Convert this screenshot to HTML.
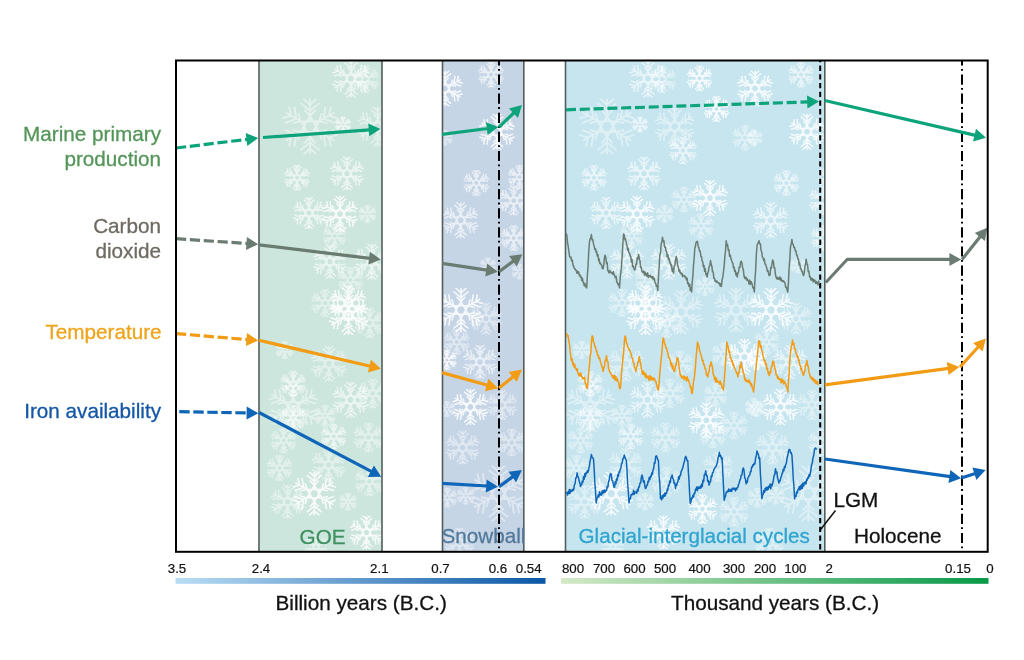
<!DOCTYPE html><html><head><meta charset="utf-8"><style>html,body{margin:0;padding:0;background:#fff;overflow:hidden;}svg{display:block;}text{font-family:"Liberation Sans",sans-serif;}</style></head><body>
<svg width="1024" height="660" viewBox="0 0 1024 660">
<rect width="1024" height="660" fill="#fff"/>
<rect x="259" y="61" width="123" height="490" fill="#cde6dd"/>
<rect x="442" y="61" width="82" height="490" fill="#c6d5e6"/>
<rect x="565.5" y="61" width="259.5" height="490" fill="#c6e5ef"/>
<defs><symbol id="fl" viewBox="-50 -50 100 100"><g fill="none" stroke="#fff" stroke-linecap="butt"><g transform="rotate(0)"><path d="M0,-10 L0,-50 M-17,-42 L0,-28 L17,-42 M-12,-50 L0,-39 L12,-50 M-10,-30 L0,-19 L10,-30"/></g><g transform="rotate(60)"><path d="M0,-10 L0,-50 M-17,-42 L0,-28 L17,-42 M-12,-50 L0,-39 L12,-50 M-10,-30 L0,-19 L10,-30"/></g><g transform="rotate(120)"><path d="M0,-10 L0,-50 M-17,-42 L0,-28 L17,-42 M-12,-50 L0,-39 L12,-50 M-10,-30 L0,-19 L10,-30"/></g><g transform="rotate(180)"><path d="M0,-10 L0,-50 M-17,-42 L0,-28 L17,-42 M-12,-50 L0,-39 L12,-50 M-10,-30 L0,-19 L10,-30"/></g><g transform="rotate(240)"><path d="M0,-10 L0,-50 M-17,-42 L0,-28 L17,-42 M-12,-50 L0,-39 L12,-50 M-10,-30 L0,-19 L10,-30"/></g><g transform="rotate(300)"><path d="M0,-10 L0,-50 M-17,-42 L0,-28 L17,-42 M-12,-50 L0,-39 L12,-50 M-10,-30 L0,-19 L10,-30"/></g><path d="M0,-19 L16.45,9.5 L-16.45,9.5 Z M0,19 L16.45,-9.5 L-16.45,-9.5 Z"/></g></symbol><filter id="blr" x="-5%" y="-5%" width="110%" height="110%"><feGaussianBlur stdDeviation="0.7"/></filter><clipPath id="cg"><rect x="259" y="61" width="123" height="490"/></clipPath><clipPath id="cs"><rect x="442" y="61" width="82" height="490"/></clipPath><clipPath id="cc"><rect x="565.5" y="61" width="259.5" height="490"/></clipPath></defs>
<g clip-path="url(#cg)"><g filter="url(#blr)">
<use href="#fl" x="332.0" y="59.5" width="38" height="38" opacity="0.62" stroke-width="3.87"/>
<use href="#fl" x="351.5" y="65.5" width="28" height="28" opacity="0.45" stroke-width="4.71"/>
<use href="#fl" x="282.0" y="98.6" width="56" height="56" opacity="0.45" stroke-width="3.11"/>
<use href="#fl" x="335.0" y="116.5" width="16" height="16" opacity="0.62" stroke-width="7.13"/>
<use href="#fl" x="357.7" y="106.6" width="40" height="40" opacity="0.45" stroke-width="3.75"/>
<use href="#fl" x="284.0" y="164.7" width="26" height="26" opacity="0.62" stroke-width="4.96"/>
<use href="#fl" x="330.0" y="156.6" width="34" height="34" opacity="0.62" stroke-width="4.15"/>
<use href="#fl" x="293.0" y="197.0" width="32" height="32" opacity="0.62" stroke-width="4.31"/>
<use href="#fl" x="322.0" y="196.0" width="36" height="36" opacity="0.85" stroke-width="4.00"/>
<use href="#fl" x="358.5" y="205.0" width="18" height="18" opacity="0.45" stroke-width="6.50"/>
<use href="#fl" x="322.6" y="224.0" width="24" height="24" opacity="0.45" stroke-width="5.25"/>
<use href="#fl" x="313.0" y="244.7" width="34" height="34" opacity="0.62" stroke-width="4.15"/>
<use href="#fl" x="353.7" y="243.7" width="36" height="36" opacity="0.62" stroke-width="4.00"/>
<use href="#fl" x="337.5" y="267.0" width="26" height="26" opacity="0.45" stroke-width="4.96"/>
<use href="#fl" x="330.4" y="285.0" width="36" height="36" opacity="0.85" stroke-width="4.00"/>
<use href="#fl" x="311.0" y="289.0" width="28" height="28" opacity="0.45" stroke-width="4.71"/>
<use href="#fl" x="328.4" y="295.0" width="40" height="40" opacity="0.85" stroke-width="3.75"/>
<use href="#fl" x="354.6" y="308.0" width="30" height="30" opacity="0.45" stroke-width="4.50"/>
<use href="#fl" x="275.7" y="341.0" width="18" height="18" opacity="0.45" stroke-width="6.50"/>
<use href="#fl" x="311.0" y="345.7" width="36" height="36" opacity="0.45" stroke-width="4.00"/>
<use href="#fl" x="280.2" y="370.8" width="26" height="26" opacity="0.62" stroke-width="4.96"/>
<use href="#fl" x="268.2" y="382.0" width="50" height="50" opacity="0.45" stroke-width="3.30"/>
<use href="#fl" x="280.2" y="404.8" width="26" height="26" opacity="0.62" stroke-width="4.96"/>
<use href="#fl" x="332.5" y="381.8" width="36" height="36" opacity="0.62" stroke-width="4.00"/>
<use href="#fl" x="314.0" y="404.7" width="22" height="22" opacity="0.45" stroke-width="5.59"/>
<use href="#fl" x="357.8" y="378.4" width="30" height="30" opacity="0.45" stroke-width="4.50"/>
<use href="#fl" x="270.6" y="427.5" width="26" height="26" opacity="0.45" stroke-width="4.96"/>
<use href="#fl" x="320.7" y="423.4" width="26" height="26" opacity="0.62" stroke-width="4.96"/>
<use href="#fl" x="353.5" y="422.4" width="30" height="30" opacity="0.45" stroke-width="4.50"/>
<use href="#fl" x="266.5" y="455.0" width="26" height="26" opacity="0.45" stroke-width="4.96"/>
<use href="#fl" x="311.6" y="448.0" width="34" height="34" opacity="0.45" stroke-width="4.15"/>
<use href="#fl" x="292.3" y="471.6" width="44" height="44" opacity="0.85" stroke-width="3.55"/>
<use href="#fl" x="270.7" y="484.8" width="34" height="34" opacity="0.45" stroke-width="4.15"/>
<use href="#fl" x="339.0" y="492.8" width="18" height="18" opacity="0.45" stroke-width="6.50"/>
<use href="#fl" x="354.5" y="466.4" width="30" height="30" opacity="0.45" stroke-width="4.50"/>
<use href="#fl" x="349.5" y="515.5" width="34" height="34" opacity="0.85" stroke-width="4.15"/>
<use href="#fl" x="304.0" y="534.8" width="24" height="24" opacity="0.45" stroke-width="5.25"/>
</g></g>
<g clip-path="url(#cs)"><g filter="url(#blr)">
<use href="#fl" x="427.0" y="70.5" width="36" height="36" opacity="0.85" stroke-width="4.00"/>
<use href="#fl" x="478.0" y="61.7" width="26" height="26" opacity="0.62" stroke-width="4.96"/>
<use href="#fl" x="479.0" y="113.8" width="36" height="36" opacity="0.85" stroke-width="4.00"/>
<use href="#fl" x="436.8" y="129.7" width="16" height="16" opacity="0.45" stroke-width="7.13"/>
<use href="#fl" x="463.3" y="170.0" width="26" height="26" opacity="0.62" stroke-width="4.96"/>
<use href="#fl" x="507.6" y="165.0" width="24" height="24" opacity="0.62" stroke-width="5.25"/>
<use href="#fl" x="442.6" y="202.3" width="36" height="36" opacity="0.62" stroke-width="4.00"/>
<use href="#fl" x="498.7" y="185.6" width="30" height="30" opacity="0.62" stroke-width="4.50"/>
<use href="#fl" x="500.7" y="225.0" width="26" height="26" opacity="0.62" stroke-width="4.96"/>
<use href="#fl" x="480.0" y="257.5" width="16" height="16" opacity="0.45" stroke-width="7.13"/>
<use href="#fl" x="439.0" y="288.0" width="44" height="44" opacity="0.85" stroke-width="3.55"/>
<use href="#fl" x="511.6" y="263.5" width="16" height="16" opacity="0.45" stroke-width="7.13"/>
<use href="#fl" x="470.0" y="302.6" width="32" height="32" opacity="0.45" stroke-width="4.31"/>
<use href="#fl" x="443.7" y="329.0" width="26" height="26" opacity="0.45" stroke-width="4.96"/>
<use href="#fl" x="463.0" y="345.0" width="34" height="34" opacity="0.62" stroke-width="4.15"/>
<use href="#fl" x="436.8" y="350.0" width="20" height="20" opacity="0.85" stroke-width="6.00"/>
<use href="#fl" x="452.4" y="389.0" width="36" height="36" opacity="0.85" stroke-width="4.00"/>
<use href="#fl" x="487.0" y="390.0" width="30" height="30" opacity="0.45" stroke-width="4.50"/>
<use href="#fl" x="438.8" y="401.0" width="16" height="16" opacity="0.45" stroke-width="7.13"/>
<use href="#fl" x="445.6" y="430.6" width="34" height="34" opacity="0.45" stroke-width="4.15"/>
<use href="#fl" x="497.7" y="428.5" width="28" height="28" opacity="0.45" stroke-width="4.71"/>
<use href="#fl" x="456.7" y="486.7" width="18" height="18" opacity="0.45" stroke-width="6.50"/>
<use href="#fl" x="470.4" y="465.6" width="56" height="56" opacity="0.45" stroke-width="3.11"/>
<use href="#fl" x="437.3" y="487.7" width="20" height="20" opacity="0.45" stroke-width="6.00"/>
<use href="#fl" x="444.5" y="527.7" width="30" height="30" opacity="0.45" stroke-width="4.50"/>
</g></g>
<g clip-path="url(#cc)"><g filter="url(#blr)">
<use href="#fl" x="629.0" y="59.5" width="38" height="38" opacity="0.62" stroke-width="3.87"/>
<use href="#fl" x="648.5" y="65.5" width="28" height="28" opacity="0.45" stroke-width="4.71"/>
<use href="#fl" x="579.0" y="98.6" width="56" height="56" opacity="0.45" stroke-width="3.11"/>
<use href="#fl" x="632.0" y="116.5" width="16" height="16" opacity="0.62" stroke-width="7.13"/>
<use href="#fl" x="654.7" y="106.6" width="40" height="40" opacity="0.45" stroke-width="3.75"/>
<use href="#fl" x="581.0" y="164.7" width="26" height="26" opacity="0.62" stroke-width="4.96"/>
<use href="#fl" x="627.0" y="156.6" width="34" height="34" opacity="0.62" stroke-width="4.15"/>
<use href="#fl" x="590.0" y="197.0" width="32" height="32" opacity="0.62" stroke-width="4.31"/>
<use href="#fl" x="619.0" y="196.0" width="36" height="36" opacity="0.85" stroke-width="4.00"/>
<use href="#fl" x="655.5" y="205.0" width="18" height="18" opacity="0.45" stroke-width="6.50"/>
<use href="#fl" x="619.6" y="224.0" width="24" height="24" opacity="0.45" stroke-width="5.25"/>
<use href="#fl" x="610.0" y="244.7" width="34" height="34" opacity="0.62" stroke-width="4.15"/>
<use href="#fl" x="650.7" y="243.7" width="36" height="36" opacity="0.62" stroke-width="4.00"/>
<use href="#fl" x="634.5" y="267.0" width="26" height="26" opacity="0.45" stroke-width="4.96"/>
<use href="#fl" x="627.4" y="285.0" width="36" height="36" opacity="0.85" stroke-width="4.00"/>
<use href="#fl" x="608.0" y="289.0" width="28" height="28" opacity="0.45" stroke-width="4.71"/>
<use href="#fl" x="625.4" y="295.0" width="40" height="40" opacity="0.85" stroke-width="3.75"/>
<use href="#fl" x="651.6" y="308.0" width="30" height="30" opacity="0.45" stroke-width="4.50"/>
<use href="#fl" x="572.7" y="341.0" width="18" height="18" opacity="0.45" stroke-width="6.50"/>
<use href="#fl" x="608.0" y="345.7" width="36" height="36" opacity="0.45" stroke-width="4.00"/>
<use href="#fl" x="577.2" y="370.8" width="26" height="26" opacity="0.62" stroke-width="4.96"/>
<use href="#fl" x="565.2" y="382.0" width="50" height="50" opacity="0.45" stroke-width="3.30"/>
<use href="#fl" x="577.2" y="404.8" width="26" height="26" opacity="0.62" stroke-width="4.96"/>
<use href="#fl" x="629.5" y="381.8" width="36" height="36" opacity="0.62" stroke-width="4.00"/>
<use href="#fl" x="611.0" y="404.7" width="22" height="22" opacity="0.45" stroke-width="5.59"/>
<use href="#fl" x="654.8" y="378.4" width="30" height="30" opacity="0.45" stroke-width="4.50"/>
<use href="#fl" x="567.6" y="427.5" width="26" height="26" opacity="0.45" stroke-width="4.96"/>
<use href="#fl" x="617.7" y="423.4" width="26" height="26" opacity="0.62" stroke-width="4.96"/>
<use href="#fl" x="650.5" y="422.4" width="30" height="30" opacity="0.45" stroke-width="4.50"/>
<use href="#fl" x="563.5" y="455.0" width="26" height="26" opacity="0.45" stroke-width="4.96"/>
<use href="#fl" x="608.6" y="448.0" width="34" height="34" opacity="0.45" stroke-width="4.15"/>
<use href="#fl" x="589.3" y="471.6" width="44" height="44" opacity="0.85" stroke-width="3.55"/>
<use href="#fl" x="567.7" y="484.8" width="34" height="34" opacity="0.45" stroke-width="4.15"/>
<use href="#fl" x="636.0" y="492.8" width="18" height="18" opacity="0.45" stroke-width="6.50"/>
<use href="#fl" x="651.5" y="466.4" width="30" height="30" opacity="0.45" stroke-width="4.50"/>
<use href="#fl" x="646.5" y="515.5" width="34" height="34" opacity="0.85" stroke-width="4.15"/>
<use href="#fl" x="601.0" y="534.8" width="24" height="24" opacity="0.45" stroke-width="5.25"/>
<use href="#fl" x="686.5" y="65.3" width="26" height="26" opacity="0.85" stroke-width="4.96"/>
<use href="#fl" x="703.5" y="96.0" width="26" height="26" opacity="0.85" stroke-width="4.96"/>
<use href="#fl" x="732.0" y="124.7" width="26" height="26" opacity="0.45" stroke-width="4.96"/>
<use href="#fl" x="692.0" y="180.0" width="36" height="36" opacity="0.85" stroke-width="4.00"/>
<use href="#fl" x="671.0" y="186.5" width="26" height="26" opacity="0.45" stroke-width="4.96"/>
<use href="#fl" x="688.0" y="212.9" width="26" height="26" opacity="0.45" stroke-width="4.96"/>
<use href="#fl" x="695.0" y="276.5" width="20" height="20" opacity="0.45" stroke-width="6.00"/>
<use href="#fl" x="659.3" y="290.0" width="44" height="44" opacity="0.45" stroke-width="3.55"/>
<use href="#fl" x="714.0" y="288.0" width="44" height="44" opacity="0.45" stroke-width="3.55"/>
<use href="#fl" x="667.0" y="350.5" width="26" height="26" opacity="0.45" stroke-width="4.96"/>
<use href="#fl" x="726.5" y="339.0" width="36" height="36" opacity="0.85" stroke-width="4.00"/>
<use href="#fl" x="711.5" y="342.0" width="24" height="24" opacity="0.45" stroke-width="5.25"/>
<use href="#fl" x="688.3" y="402.2" width="36" height="36" opacity="0.85" stroke-width="4.00"/>
<use href="#fl" x="703.5" y="383.0" width="24" height="24" opacity="0.45" stroke-width="5.25"/>
<use href="#fl" x="720.0" y="411.5" width="28" height="28" opacity="0.45" stroke-width="4.71"/>
<use href="#fl" x="744.8" y="398.0" width="18" height="18" opacity="0.45" stroke-width="6.50"/>
<use href="#fl" x="687.4" y="494.0" width="30" height="30" opacity="0.85" stroke-width="4.50"/>
<use href="#fl" x="719.0" y="496.7" width="30" height="30" opacity="0.45" stroke-width="4.50"/>
<use href="#fl" x="703.0" y="452.0" width="30" height="30" opacity="0.45" stroke-width="4.50"/>
<use href="#fl" x="700.0" y="422.3" width="26" height="26" opacity="0.45" stroke-width="4.96"/>
<use href="#fl" x="669.0" y="136.5" width="28" height="28" opacity="0.62" stroke-width="4.71"/>
<use href="#fl" x="737.0" y="70.5" width="36" height="36" opacity="0.85" stroke-width="4.00"/>
<use href="#fl" x="788.0" y="61.7" width="26" height="26" opacity="0.62" stroke-width="4.96"/>
<use href="#fl" x="789.0" y="113.8" width="36" height="36" opacity="0.85" stroke-width="4.00"/>
<use href="#fl" x="746.8" y="129.7" width="16" height="16" opacity="0.45" stroke-width="7.13"/>
<use href="#fl" x="773.3" y="170.0" width="26" height="26" opacity="0.62" stroke-width="4.96"/>
<use href="#fl" x="817.6" y="165.0" width="24" height="24" opacity="0.62" stroke-width="5.25"/>
<use href="#fl" x="752.6" y="202.3" width="36" height="36" opacity="0.62" stroke-width="4.00"/>
<use href="#fl" x="808.7" y="185.6" width="30" height="30" opacity="0.62" stroke-width="4.50"/>
<use href="#fl" x="810.7" y="225.0" width="26" height="26" opacity="0.62" stroke-width="4.96"/>
<use href="#fl" x="790.0" y="257.5" width="16" height="16" opacity="0.45" stroke-width="7.13"/>
<use href="#fl" x="749.0" y="288.0" width="44" height="44" opacity="0.85" stroke-width="3.55"/>
<use href="#fl" x="821.6" y="263.5" width="16" height="16" opacity="0.45" stroke-width="7.13"/>
<use href="#fl" x="780.0" y="302.6" width="32" height="32" opacity="0.45" stroke-width="4.31"/>
<use href="#fl" x="753.7" y="329.0" width="26" height="26" opacity="0.45" stroke-width="4.96"/>
<use href="#fl" x="773.0" y="345.0" width="34" height="34" opacity="0.62" stroke-width="4.15"/>
<use href="#fl" x="746.8" y="350.0" width="20" height="20" opacity="0.85" stroke-width="6.00"/>
<use href="#fl" x="762.4" y="389.0" width="36" height="36" opacity="0.85" stroke-width="4.00"/>
<use href="#fl" x="797.0" y="390.0" width="30" height="30" opacity="0.45" stroke-width="4.50"/>
<use href="#fl" x="748.8" y="401.0" width="16" height="16" opacity="0.45" stroke-width="7.13"/>
<use href="#fl" x="755.6" y="430.6" width="34" height="34" opacity="0.45" stroke-width="4.15"/>
<use href="#fl" x="807.7" y="428.5" width="28" height="28" opacity="0.45" stroke-width="4.71"/>
<use href="#fl" x="766.7" y="486.7" width="18" height="18" opacity="0.45" stroke-width="6.50"/>
<use href="#fl" x="780.4" y="465.6" width="56" height="56" opacity="0.45" stroke-width="3.11"/>
<use href="#fl" x="747.3" y="487.7" width="20" height="20" opacity="0.45" stroke-width="6.00"/>
<use href="#fl" x="754.5" y="527.7" width="30" height="30" opacity="0.45" stroke-width="4.50"/>
</g></g>
<line x1="259" y1="60" x2="259" y2="552" stroke="#535d5c" stroke-width="1.6"/>
<line x1="382" y1="60" x2="382" y2="552" stroke="#535d5c" stroke-width="1.6"/>
<line x1="442.5" y1="60" x2="442.5" y2="552" stroke="#535d5c" stroke-width="1.6"/>
<line x1="523.8" y1="60" x2="523.8" y2="552" stroke="#535d5c" stroke-width="1.6"/>
<line x1="565.5" y1="60" x2="565.5" y2="552" stroke="#535d5c" stroke-width="1.6"/>
<line x1="824.8" y1="60" x2="824.8" y2="552" stroke="#535d5c" stroke-width="1.6"/>
<text x="299.6" y="543.5" font-size="20.7" fill="#3f9160" stroke="#3f9160" stroke-width="0.3">GOE</text>
<text x="441.4" y="542.6" font-size="20.7" fill="#52799a" stroke="#52799a" stroke-width="0.3">Snowball</text>
<text x="578.6" y="543" font-size="20.6" fill="#2fa4d0" stroke="#2fa4d0" stroke-width="0.3">Glacial-interglacial cycles</text>
<text x="854" y="543" font-size="20.7" fill="#111" stroke="#111" stroke-width="0.3">Holocene</text>
<text x="833.5" y="506.5" font-size="20.7" fill="#111" stroke="#111" stroke-width="0.3">LGM</text>
<line x1="835.5" y1="510.5" x2="819.8" y2="530.5" stroke="#111" stroke-width="1.5"/>
<line x1="499" y1="61" x2="499" y2="551" stroke="#000" stroke-width="2" stroke-dasharray="10.2 3.3 1.8 3.8" stroke-dashoffset="5.6"/>
<line x1="962" y1="61" x2="962" y2="551" stroke="#000" stroke-width="2" stroke-dasharray="10.2 3.3 1.8 3.8" stroke-dashoffset="5.6"/>
<line x1="820.2" y1="61" x2="820.2" y2="551" stroke="#000" stroke-width="2" stroke-dasharray="5.3 3.4" stroke-dashoffset="4.1"/>
<line x1="176.0" y1="148.0" x2="247.5" y2="139.3" stroke="#0ea47b" stroke-width="3.2" stroke-dasharray="10.2 3.7"/><polygon points="258.2,138.0 247.3,145.9 245.7,133.0" fill="#0ea47b"/>
<line x1="263.0" y1="137.5" x2="369.7" y2="129.8" stroke="#0ea47b" stroke-width="3.2"/><polygon points="380.5,129.0 369.2,136.3 368.3,123.4" fill="#0ea47b"/>
<line x1="442.0" y1="134.4" x2="487.8" y2="128.5" stroke="#0ea47b" stroke-width="3.2"/><polygon points="498.5,127.1 487.6,135.1 486.0,122.2" fill="#0ea47b"/>
<line x1="499.0" y1="127.1" x2="514.2" y2="112.5" stroke="#0ea47b" stroke-width="3.2"/><polygon points="522.0,105.0 518.0,117.9 509.0,108.5" fill="#0ea47b"/>
<line x1="566.0" y1="109.8" x2="808.2" y2="101.9" stroke="#0ea47b" stroke-width="3.2" stroke-dasharray="10 3.8"/><polygon points="819.0,101.6 807.4,108.5 807.0,95.5" fill="#0ea47b"/>
<line x1="824.7" y1="100.5" x2="975.5" y2="135.4" stroke="#0ea47b" stroke-width="3.2"/><polygon points="986.0,137.8 973.0,141.5 976.0,128.8" fill="#0ea47b"/>
<line x1="176.0" y1="238.7" x2="247.4" y2="243.5" stroke="#6a7b71" stroke-width="3.2" stroke-dasharray="10.2 3.7"/><polygon points="258.2,244.2 246.0,249.9 246.9,236.9" fill="#6a7b71"/>
<line x1="259.0" y1="244.8" x2="370.1" y2="258.3" stroke="#6a7b71" stroke-width="3.2"/><polygon points="380.8,259.6 368.3,264.6 369.9,251.7" fill="#6a7b71"/>
<line x1="442.0" y1="263.4" x2="487.1" y2="270.1" stroke="#6a7b71" stroke-width="3.2"/><polygon points="497.8,271.7 485.2,276.4 487.1,263.5" fill="#6a7b71"/>
<line x1="499.0" y1="271.7" x2="513.8" y2="260.7" stroke="#6a7b71" stroke-width="3.2"/><polygon points="522.4,254.2 516.8,266.5 509.1,256.1" fill="#6a7b71"/>
<polyline points="825.8,282.6 847.1,259.4 855.0,259.4" fill="none" stroke="#6a7b71" stroke-width="3" stroke-linejoin="miter"/>
<line x1="847.0" y1="259.4" x2="950.4" y2="259.4" stroke="#6a7b71" stroke-width="3.2"/><polygon points="961.2,259.4 949.4,265.9 949.4,252.9" fill="#6a7b71"/>
<line x1="962.0" y1="259.4" x2="980.5" y2="236.2" stroke="#6a7b71" stroke-width="3.2"/><polygon points="987.2,227.8 984.9,241.1 974.8,233.0" fill="#6a7b71"/>
<line x1="176.0" y1="333.6" x2="247.4" y2="339.6" stroke="#f29b15" stroke-width="3.2" stroke-dasharray="10.2 3.7"/><polygon points="258.2,340.5 245.9,346.0 247.0,333.0" fill="#f29b15"/>
<line x1="259.0" y1="340.3" x2="370.4" y2="366.3" stroke="#f29b15" stroke-width="3.2"/><polygon points="380.9,368.8 367.9,372.4 370.9,359.8" fill="#f29b15"/>
<line x1="442.0" y1="372.6" x2="487.6" y2="385.3" stroke="#f29b15" stroke-width="3.2"/><polygon points="498.0,388.2 484.9,391.3 488.4,378.8" fill="#f29b15"/>
<line x1="499.0" y1="388.0" x2="513.5" y2="376.4" stroke="#f29b15" stroke-width="3.2"/><polygon points="521.9,369.6 516.8,382.1 508.6,371.9" fill="#f29b15"/>
<line x1="825.0" y1="384.9" x2="948.7" y2="368.3" stroke="#f29b15" stroke-width="3.2"/><polygon points="959.4,366.9 948.6,374.9 946.8,362.0" fill="#f29b15"/>
<line x1="960.0" y1="367.0" x2="978.6" y2="346.5" stroke="#f29b15" stroke-width="3.2"/><polygon points="985.8,338.5 982.7,351.6 973.1,342.9" fill="#f29b15"/>
<line x1="179.3" y1="411.7" x2="247.6" y2="413.0" stroke="#0f66b8" stroke-width="3.2" stroke-dasharray="10.4 3.6"/><polygon points="258.4,413.2 246.5,419.5 246.7,406.5" fill="#0f66b8"/>
<line x1="259.0" y1="412.5" x2="371.7" y2="471.7" stroke="#0f66b8" stroke-width="3.2"/><polygon points="381.3,476.7 367.8,477.0 373.9,465.5" fill="#0f66b8"/>
<line x1="442.0" y1="483.3" x2="487.2" y2="486.0" stroke="#0f66b8" stroke-width="3.2"/><polygon points="498.0,486.7 485.8,492.5 486.6,479.5" fill="#0f66b8"/>
<line x1="499.0" y1="486.7" x2="513.2" y2="476.4" stroke="#0f66b8" stroke-width="3.2"/><polygon points="521.9,470.1 516.2,482.3 508.5,471.8" fill="#0f66b8"/>
<line x1="825.0" y1="459.0" x2="950.4" y2="476.7" stroke="#0f66b8" stroke-width="3.2"/><polygon points="961.1,478.2 948.5,483.0 950.3,470.1" fill="#0f66b8"/>
<line x1="961.3" y1="478.0" x2="975.3" y2="473.4" stroke="#0f66b8" stroke-width="3.2"/><polygon points="985.6,470.0 976.4,479.9 972.4,467.5" fill="#0f66b8"/>
<polyline points="566.2,233.2 566.9,235.8 567.6,243.1 568.2,246.4 568.9,251.5 569.6,256.4 570.3,257.6 571.0,257.1 571.6,261.0 572.3,260.1 573.0,265.0 573.6,266.0 574.3,268.6 575.0,268.8 575.6,270.1 576.2,270.3 576.8,273.2 577.4,271.1 578.1,273.0 578.7,272.1 579.3,275.5 579.9,274.8 580.5,277.0 581.1,276.5 581.7,280.4 582.4,278.1 583.0,282.2 583.6,282.8 584.2,285.6 584.8,283.3 585.5,286.8 586.1,285.4 586.7,287.9 587.4,275.0 588.0,266.8 588.7,252.1 589.4,242.8 590.1,238.7 590.7,238.7 591.4,234.6 592.1,240.0 592.8,239.7 593.5,243.9 594.2,246.3 594.9,249.6 595.5,248.6 596.1,252.5 596.7,251.5 597.3,256.0 598.0,254.6 598.6,260.8 599.2,259.0 599.8,263.6 600.4,263.1 601.0,264.7 601.7,265.2 602.4,268.6 603.1,268.8 603.8,264.5 604.4,257.7 605.1,255.1 605.8,257.4 606.5,263.6 607.1,262.5 607.8,270.4 608.5,271.5 609.1,273.0 609.7,270.5 610.4,272.3 611.0,272.1 611.6,273.1 612.2,272.8 612.8,274.3 613.5,271.7 614.1,275.1 614.7,275.6 615.4,277.8 616.1,276.4 616.8,282.1 617.4,282.5 618.1,284.8 618.8,283.7 619.5,287.9 620.2,277.5 620.8,273.2 621.5,266.0 622.2,255.9 622.9,242.6 623.6,233.9 624.3,235.3 625.0,240.0 625.6,238.8 626.3,243.4 627.0,245.5 627.6,250.2 628.2,248.3 628.9,252.8 629.5,253.2 630.1,255.6 630.8,256.8 631.4,262.1 632.0,259.6 632.6,266.7 633.2,265.6 633.9,268.3 634.5,270.1 635.2,269.5 635.9,264.0 636.5,264.5 637.2,257.8 637.9,259.2 638.6,254.4 639.3,258.5 640.0,260.9 640.6,267.5 641.3,267.3 642.0,271.5 642.6,272.0 643.3,272.6 643.9,271.1 644.5,274.9 645.1,272.2 645.8,275.1 646.4,273.8 647.0,276.3 647.6,272.8 648.3,277.4 648.9,275.6 649.6,276.5 650.2,275.4 650.9,277.2 651.6,276.5 652.3,278.5 652.9,276.4 653.6,279.5 654.3,278.3 655.0,282.5 655.7,283.5 656.4,286.2 657.1,285.8 657.8,290.6 658.5,276.6 659.1,267.5 659.8,255.1 660.5,252.5 661.1,244.5 661.8,241.9 662.5,237.3 663.2,241.4 663.9,240.8 664.6,247.1 665.3,247.1 666.0,251.0 666.6,251.6 667.2,256.9 667.9,254.6 668.5,259.5 669.1,258.3 669.8,262.9 670.4,262.7 671.0,265.7 671.6,265.1 672.2,271.3 672.9,268.9 673.5,272.9 674.2,266.2 674.9,265.4 675.5,260.2 676.2,256.4 676.9,258.9 677.6,265.1 678.3,267.0 679.0,271.5 679.6,269.9 680.2,273.1 680.9,272.5 681.5,274.5 682.1,273.6 682.7,276.7 683.3,275.4 683.9,275.8 684.6,275.7 685.2,277.4 685.8,277.0 686.4,279.8 687.1,278.1 687.7,283.7 688.4,283.1 689.0,286.3 689.7,284.3 690.3,290.5 691.0,287.8 691.6,292.0 692.2,282.1 692.9,275.6 693.5,265.4 694.2,258.0 694.8,248.2 695.5,245.7 696.1,242.4 696.8,241.4 697.5,241.5 698.2,247.0 698.8,247.4 699.5,251.1 700.2,251.1 700.9,256.4 701.5,256.7 702.1,260.8 702.8,261.9 703.4,266.8 704.0,265.5 704.6,271.3 705.2,268.8 705.9,274.6 706.5,274.1 707.1,277.0 707.8,272.9 708.5,270.9 709.1,266.5 709.8,266.0 710.5,260.5 711.2,264.6 711.9,266.3 712.5,271.8 713.2,271.9 713.9,278.3 714.5,278.5 715.1,281.0 715.8,280.5 716.4,282.2 717.0,281.2 717.6,282.4 718.3,282.6 718.9,283.6 719.5,283.1 720.1,285.9 720.8,283.7 721.4,286.5 722.1,279.6 722.8,277.3 723.5,271.5 724.2,265.5 724.9,256.1 725.5,250.9 726.2,240.7 726.9,245.7 727.6,244.6 728.3,250.6 728.9,249.6 729.6,256.3 730.3,255.2 731.0,259.2 731.6,260.1 732.2,262.6 732.9,263.3 733.5,268.0 734.1,267.2 734.7,271.5 735.3,270.5 736.0,275.1 736.6,273.1 737.2,277.0 737.9,273.0 738.6,272.0 739.2,266.9 739.9,267.5 740.6,262.2 741.3,261.2 742.0,263.4 742.7,268.1 743.3,269.3 744.0,275.8 744.7,278.3 745.3,278.4 745.9,277.0 746.6,280.1 747.2,278.7 747.8,280.4 748.4,280.4 749.0,283.9 749.6,280.1 750.3,284.3 750.9,281.5 751.5,282.4 752.2,284.6 752.9,287.8 753.6,287.5 754.3,292.0 755.0,279.3 755.6,270.9 756.3,255.0 757.0,245.5 757.7,243.4 758.3,243.1 759.0,240.7 759.7,243.8 760.4,243.8 761.0,250.2 761.7,251.7 762.4,257.0 763.1,257.8 763.7,260.6 764.3,258.9 765.0,264.1 765.6,264.2 766.2,266.5 766.8,267.8 767.4,271.3 768.1,270.9 768.7,274.4 769.3,275.6 770.0,275.0 770.7,267.6 771.3,268.2 772.0,263.6 772.7,259.9 773.4,261.8 774.1,267.8 774.7,267.7 775.4,274.2 776.1,277.0 776.7,278.7 777.4,277.4 778.0,279.2 778.6,277.9 779.3,279.3 779.9,276.9 780.5,280.2 781.1,278.2 781.8,281.2 782.4,280.7 783.0,281.5 783.7,280.9 784.3,282.4 785.0,282.8 785.7,287.3 786.4,287.3 787.1,290.1 787.8,292.0 788.5,281.3 789.1,268.1 789.8,259.2 790.5,246.9 791.2,243.9 791.9,239.4 792.6,244.0 793.2,244.4 793.9,247.7 794.6,247.6 795.3,250.9 795.9,250.7 796.6,255.1 797.2,255.2 797.9,259.2 798.5,259.1 799.1,264.8 799.7,263.1 800.4,267.8 801.0,268.3 801.6,271.0 802.2,271.0 802.9,274.3 803.5,275.6 804.2,273.2 804.9,266.9 805.5,264.5 806.2,259.2 806.9,263.8 807.6,264.9 808.2,271.7 808.9,271.2 809.6,277.0 810.2,276.5 810.8,279.8 811.4,278.2 812.0,280.3 812.6,278.4 813.2,281.9 813.8,279.7 814.4,281.1 815.0,280.4 815.6,283.3 816.2,281.4 816.8,283.4 817.4,282.6 818.0,284.9 818.6,281.0 819.2,283.8" fill="none" stroke="#6a7b71" stroke-width="1.5" stroke-linejoin="round"/>
<polyline points="566.2,333.9 566.9,333.7 567.5,336.6 568.2,335.9 568.9,342.1 569.5,344.1 570.2,351.9 570.9,357.8 571.5,360.7 572.2,358.8 572.8,364.7 573.4,363.0 574.0,367.0 574.7,364.3 575.3,368.1 575.9,368.1 576.5,370.2 577.2,368.7 577.8,372.9 578.4,373.0 579.0,375.8 579.6,373.7 580.2,375.9 580.8,373.1 581.5,376.5 582.1,376.7 582.7,379.1 583.3,377.9 583.9,378.3 584.6,377.4 585.3,383.3 585.9,383.3 586.6,388.1 587.3,387.9 588.0,382.1 588.7,372.3 589.4,366.0 590.1,356.1 590.8,353.3 591.4,342.4 592.1,335.9 592.8,336.6 593.5,342.1 594.2,342.9 594.9,346.9 595.5,347.0 596.2,351.0 596.9,351.3 597.6,355.7 598.3,355.4 598.9,358.5 599.6,357.9 600.3,361.4 601.0,363.3 601.7,366.5 602.4,366.9 603.1,371.5 603.8,368.3 604.5,366.1 605.1,361.0 605.8,359.7 606.5,355.8 607.2,361.3 607.9,361.8 608.5,368.4 609.2,370.1 609.9,372.3 610.6,372.6 611.3,374.7 612.0,375.6 612.7,377.5 613.4,375.4 614.0,378.5 614.7,375.4 615.4,380.3 616.0,376.7 616.7,380.7 617.4,379.0 618.1,381.9 618.8,382.9 619.5,387.8 620.2,388.6 620.9,383.3 621.5,373.0 622.2,366.0 622.9,358.9 623.6,352.9 624.3,342.5 625.0,335.9 625.7,337.5 626.4,342.8 627.0,343.7 627.7,346.9 628.4,347.7 629.1,349.9 629.7,349.8 630.4,352.2 631.1,353.7 631.8,357.6 632.5,357.9 633.2,362.2 633.8,362.9 634.5,367.5 635.2,368.3 635.9,371.5 636.6,366.5 637.3,366.0 637.9,362.2 638.6,361.3 639.3,356.4 640.0,361.3 640.6,363.3 641.3,367.7 642.0,371.5 642.6,374.4 643.2,370.9 643.8,374.2 644.4,372.7 645.1,376.5 645.7,373.4 646.3,378.1 646.9,375.8 647.5,377.0 648.1,376.8 648.8,379.8 649.4,375.6 650.0,380.2 650.7,376.3 651.3,379.3 651.9,377.2 652.5,379.7 653.2,378.3 653.8,380.1 654.4,378.2 655.1,380.9 655.7,381.0 656.4,383.7 657.0,385.8 657.7,389.5 658.4,390.0 659.1,383.0 659.8,373.1 660.5,366.0 661.2,358.0 661.9,353.1 662.5,344.2 663.2,338.0 663.9,339.8 664.6,344.1 665.3,344.9 666.0,348.2 666.6,348.3 667.3,351.5 667.9,353.3 668.5,357.4 669.2,357.2 669.8,359.9 670.4,360.9 671.0,365.6 671.7,363.0 672.3,368.5 672.9,365.7 673.6,370.5 674.2,371.5 674.9,369.7 675.6,364.5 676.2,365.3 676.9,358.3 677.6,357.8 678.3,359.7 679.0,366.8 679.6,370.1 680.3,375.6 680.9,374.8 681.6,377.9 682.2,376.5 682.8,377.7 683.5,376.0 684.1,379.7 684.7,376.5 685.3,378.8 686.0,377.7 686.6,381.0 687.2,376.7 687.9,380.3 688.5,379.7 689.1,382.5 689.8,384.5 690.4,387.7 691.0,386.9 691.7,393.1 692.3,393.4 692.9,387.9 693.5,381.0 694.2,378.8 694.8,372.9 695.5,365.5 696.1,357.4 696.8,350.1 697.5,342.1 698.2,344.7 698.9,345.6 699.5,350.9 700.2,351.9 700.9,355.1 701.6,356.9 702.3,360.7 703.0,360.2 703.6,364.8 704.3,364.5 705.0,368.8 705.7,369.0 706.4,374.9 707.1,374.4 707.8,377.0 708.5,372.5 709.2,371.4 709.8,365.6 710.5,365.5 711.2,362.0 711.9,365.6 712.6,367.7 713.2,374.6 713.9,375.1 714.6,379.7 715.2,377.3 715.8,382.0 716.5,378.2 717.1,382.2 717.7,380.7 718.3,382.0 718.9,381.9 719.5,384.1 720.2,381.0 720.8,384.3 721.4,383.8 722.1,387.8 722.8,387.3 723.5,390.0 724.2,380.8 724.9,371.5 725.6,361.0 726.2,353.4 726.9,342.1 727.6,345.9 728.3,347.2 729.0,352.2 729.6,351.1 730.3,357.8 731.0,357.8 731.6,361.6 732.3,360.9 732.9,365.0 733.5,364.4 734.1,366.9 734.8,368.5 735.4,370.1 736.0,371.3 736.6,373.4 737.3,373.0 737.9,377.0 738.6,372.3 739.3,372.0 739.9,365.7 740.6,367.2 741.3,362.0 742.0,367.9 742.7,369.4 743.3,372.9 744.0,373.7 744.7,379.7 745.3,378.3 745.9,381.4 746.6,380.3 747.2,381.8 747.8,380.4 748.4,382.0 749.0,380.0 749.6,383.0 750.3,382.0 750.9,385.4 751.5,383.8 752.2,387.4 752.9,388.6 753.6,392.0 754.3,384.9 755.0,379.0 755.6,371.7 756.3,365.0 757.0,357.8 757.7,352.7 758.3,345.6 759.0,340.7 759.7,341.9 760.4,347.4 761.1,345.4 761.7,350.6 762.4,351.7 763.1,356.5 763.8,357.8 764.4,361.3 765.0,360.5 765.6,364.7 766.2,363.5 766.9,369.3 767.5,368.4 768.1,373.1 768.7,372.3 769.3,375.6 770.0,371.9 770.7,372.5 771.3,367.1 772.0,366.8 772.7,361.2 773.4,361.2 774.1,363.9 774.8,368.8 775.5,369.6 776.1,374.8 776.8,374.7 777.5,378.3 778.1,376.7 778.8,379.2 779.4,378.3 780.0,380.1 780.7,379.6 781.3,382.9 781.9,378.7 782.5,382.1 783.2,380.4 783.8,383.9 784.4,381.3 785.1,383.4 785.7,383.8 786.4,386.8 787.1,387.5 787.8,392.0 788.5,381.0 789.1,373.3 789.8,360.2 790.5,352.3 791.2,346.9 791.8,345.4 792.5,340.0 793.2,344.6 793.9,343.3 794.5,349.1 795.2,348.5 795.9,353.0 796.6,353.7 797.2,357.3 797.9,356.2 798.5,360.5 799.1,360.0 799.7,365.1 800.4,365.5 801.0,369.8 801.6,368.5 802.2,372.2 802.9,373.6 803.5,375.6 804.2,372.1 804.9,371.0 805.5,364.9 806.2,365.1 806.9,360.5 807.6,365.0 808.3,367.2 808.9,371.9 809.6,374.0 810.3,377.0 810.9,377.7 811.6,379.0 812.2,377.1 812.8,380.4 813.5,378.6 814.1,381.4 814.7,379.5 815.3,382.9 816.0,381.0 816.6,383.6 817.2,381.2 817.9,384.6 818.5,383.8" fill="none" stroke="#f29b15" stroke-width="1.5" stroke-linejoin="round"/>
<polyline points="566.2,493.3 566.8,492.5 567.5,495.0 568.1,491.8 568.7,493.6 569.3,489.6 570.0,493.3 570.6,490.0 571.2,491.5 571.8,490.1 572.5,491.0 573.1,489.1 573.7,489.9 574.4,484.7 575.1,484.0 575.7,478.0 576.4,478.0 577.1,472.8 577.8,476.3 578.5,477.4 579.1,480.9 579.8,482.6 580.5,486.5 581.1,484.2 581.7,484.8 582.3,481.1 582.9,482.4 583.6,476.5 584.2,479.2 584.8,473.8 585.4,476.7 586.0,472.8 586.7,473.4 587.4,470.4 588.0,472.2 588.7,469.4 589.4,465.8 590.0,461.6 590.7,458.4 591.4,454.4 592.1,457.2 592.8,457.9 593.5,459.1 594.2,469.0 594.9,483.4 595.5,491.0 596.2,502.9 596.9,498.5 597.6,497.6 598.3,494.7 598.9,496.9 599.6,491.7 600.2,494.9 600.8,493.8 601.5,495.1 602.1,490.9 602.7,493.6 603.3,490.3 604.0,492.6 604.6,490.0 605.2,492.1 605.9,490.4 606.5,490.6 607.2,486.5 607.9,486.9 608.5,481.8 609.2,480.1 609.9,475.0 610.6,473.5 611.3,474.3 612.0,480.5 612.6,480.7 613.3,484.2 614.0,487.2 614.6,487.1 615.2,481.8 615.9,483.7 616.5,478.7 617.1,480.2 617.7,474.8 618.3,476.5 619.0,472.1 619.6,472.3 620.2,469.4 620.9,468.0 621.6,463.1 622.2,463.1 622.9,458.8 623.6,458.2 624.3,455.0 625.0,457.4 625.6,458.9 626.3,460.5 627.0,469.9 627.6,483.3 628.3,491.2 629.0,502.9 629.7,498.2 630.4,498.7 631.1,494.7 631.7,494.9 632.4,493.7 633.0,494.7 633.6,490.3 634.2,494.3 634.9,491.9 635.5,492.8 636.1,491.8 636.7,493.3 637.4,489.5 638.0,491.3 638.7,486.8 639.3,487.0 640.0,482.9 640.7,482.8 641.3,477.6 642.0,474.9 642.7,477.8 643.4,482.1 644.1,480.7 644.8,485.7 645.5,488.5 646.1,487.9 646.8,485.2 647.4,485.1 648.0,481.2 648.6,481.9 649.2,477.4 649.9,479.6 650.5,476.1 651.1,476.8 651.8,472.9 652.4,474.4 653.0,470.0 653.7,468.4 654.4,462.4 655.0,463.1 655.7,456.5 656.4,455.7 657.1,457.3 657.7,459.7 658.4,460.5 659.1,475.7 659.8,483.7 660.5,498.8 661.1,497.3 661.7,499.8 662.3,495.8 662.9,498.0 663.5,494.7 664.2,496.3 664.8,493.1 665.4,495.8 666.0,492.9 666.6,493.3 667.2,489.1 667.8,490.4 668.4,484.9 669.0,485.7 669.7,481.0 670.3,482.7 670.9,477.8 671.5,477.2 672.1,474.9 672.8,478.4 673.5,479.4 674.1,483.5 674.8,483.0 675.5,488.5 676.1,484.6 676.7,485.2 677.4,482.4 678.0,481.5 678.6,476.8 679.2,479.2 679.8,475.6 680.5,475.7 681.1,471.4 681.7,470.8 682.4,468.7 683.1,466.6 683.8,463.1 684.4,461.9 685.1,457.7 685.8,456.4 686.5,458.3 687.1,460.6 687.8,460.5 688.4,472.3 689.0,480.8 689.7,495.0 690.3,503.5 690.9,502.2 691.6,498.1 692.2,498.3 692.9,495.3 693.5,497.0 694.2,493.2 694.9,493.3 695.5,489.2 696.1,489.9 696.7,487.0 697.4,490.6 698.0,486.9 698.6,488.5 699.2,487.1 699.8,488.3 700.4,486.1 701.1,487.9 701.7,484.1 702.3,486.5 703.0,480.2 703.7,481.6 704.3,474.8 705.0,474.6 705.7,470.8 706.4,475.7 707.1,475.6 707.7,481.3 708.4,480.7 709.1,485.1 709.8,482.2 710.5,481.8 711.2,475.9 711.8,476.6 712.5,472.6 713.2,472.4 713.9,469.4 714.6,468.7 715.3,467.0 716.0,466.6 716.7,464.6 717.4,462.7 718.0,458.1 718.7,455.8 719.4,452.3 720.1,456.5 720.8,455.5 721.4,458.8 722.1,457.8 722.8,472.7 723.5,486.5 724.2,500.2 724.9,497.3 725.5,496.4 726.2,492.0 726.8,492.4 727.4,491.1 728.0,491.7 728.7,488.9 729.3,491.3 729.9,489.9 730.5,491.3 731.1,489.2 731.7,491.4 732.4,488.3 733.0,489.2 733.6,488.1 734.2,489.2 734.8,488.2 735.4,490.9 736.1,488.3 736.7,489.5 737.3,487.6 737.9,487.2 738.6,484.3 739.2,483.2 739.9,480.0 740.6,478.7 741.3,475.0 741.9,475.0 742.6,470.1 743.3,468.0 744.0,470.3 744.7,477.7 745.4,478.9 746.1,483.8 746.7,481.0 747.3,482.4 747.9,477.9 748.5,477.1 749.2,475.4 749.8,475.1 750.4,471.6 751.0,471.7 751.6,467.1 752.2,467.3 752.9,464.8 753.5,465.5 754.2,463.3 754.9,463.9 755.6,458.0 756.3,455.9 757.0,450.9 757.7,453.6 758.4,454.0 759.0,458.7 759.7,457.8 760.4,473.5 761.1,484.2 761.8,498.8 762.5,495.8 763.1,494.2 763.8,490.6 764.4,492.6 765.1,488.6 765.7,490.4 766.3,487.3 767.0,490.1 767.6,487.2 768.2,489.4 768.8,486.2 769.5,487.1 770.1,484.1 770.7,488.8 771.4,484.3 772.0,485.8 772.7,483.0 773.4,480.1 774.1,475.4 774.8,474.7 775.5,468.7 776.2,472.8 776.9,472.1 777.5,477.8 778.2,479.9 778.9,483.1 779.5,480.7 780.1,480.9 780.8,477.8 781.4,476.4 782.0,473.3 782.6,473.1 783.2,469.3 783.8,471.0 784.5,466.4 785.1,467.7 785.7,464.6 786.4,463.0 787.1,457.8 787.7,455.8 788.4,451.5 789.1,449.6 789.8,449.6 790.5,452.9 791.2,452.6 791.9,455.0 792.6,465.6 793.2,477.8 793.9,485.6 794.6,498.8 795.3,495.4 796.0,496.4 796.6,491.9 797.3,493.0 798.0,489.2 798.6,489.2 799.2,486.7 799.9,490.0 800.5,485.7 801.1,488.9 801.7,484.6 802.3,488.3 802.9,483.0 803.6,486.0 804.2,482.8 804.8,483.8 805.4,481.8 806.0,483.9 806.6,479.6 807.2,480.2 807.9,477.3 808.5,477.9 809.1,474.4 809.7,476.3 810.3,472.8 811.0,469.5 811.6,464.8 812.3,462.9 813.0,457.8 813.7,455.5 814.4,449.8 815.1,448.2 815.8,448.0 816.5,449.6" fill="none" stroke="#0f66b8" stroke-width="1.5" stroke-linejoin="round"/>
<rect x="176" y="60.5" width="811.7" height="491.3" fill="none" stroke="#000" stroke-width="2"/>
<g font-size="20.7" text-anchor="end">
<text x="161" y="141" fill="#549559" stroke="#549559" stroke-width="0.3">Marine primary</text>
<text x="161" y="165.5" fill="#549559" stroke="#549559" stroke-width="0.3">production</text>
<text x="161" y="233" fill="#6f6b62" stroke="#6f6b62" stroke-width="0.3">Carbon</text>
<text x="161" y="257.6" fill="#6f6b62" stroke="#6f6b62" stroke-width="0.3">dioxide</text>
<text x="161.6" y="338.6" fill="#eda41c" stroke="#eda41c" stroke-width="0.3">Temperature</text>
<text x="161" y="417.8" fill="#1456a6" stroke="#1456a6" stroke-width="0.3">Iron availability</text>
</g>
<g font-size="13.3" text-anchor="middle" fill="#111" stroke="#111" stroke-width="0.2">
<text x="177" y="572.6">3.5</text>
<text x="261" y="572.6">2.4</text>
<text x="379.3" y="572.6">2.1</text>
<text x="440.5" y="572.6">0.7</text>
<text x="497.9" y="572.6">0.6</text>
<text x="528.7" y="572.6">0.54</text>
<text x="573" y="572.6">800</text>
<text x="604" y="572.6">700</text>
<text x="634.5" y="572.6">600</text>
<text x="665" y="572.6">500</text>
<text x="699.5" y="572.6">400</text>
<text x="734" y="572.6">300</text>
<text x="765" y="572.6">200</text>
<text x="795.4" y="572.6">100</text>
<text x="829.3" y="572.6">2</text>
<text x="958" y="572.6">0.15</text>
<text x="990" y="572.6">0</text>
</g>
<defs><linearGradient id="gb" x1="0" x2="1" y1="0" y2="0"><stop offset="0" stop-color="#b9ddf4"/><stop offset="1" stop-color="#0a56a6"/></linearGradient>
<linearGradient id="gg" x1="0" x2="1" y1="0" y2="0"><stop offset="0" stop-color="#d4e9c6"/><stop offset="1" stop-color="#079948"/></linearGradient></defs>
<rect x="175.5" y="578" width="370" height="5.8" fill="url(#gb)"/>
<rect x="561" y="578" width="427.5" height="5.8" fill="url(#gg)"/>
<text x="275.5" y="610" font-size="20.7" fill="#111" stroke="#111" stroke-width="0.3">Billion years (B.C.)</text>
<text x="671" y="610" font-size="20.7" fill="#111" stroke="#111" stroke-width="0.3">Thousand years (B.C.)</text>
</svg></body></html>
